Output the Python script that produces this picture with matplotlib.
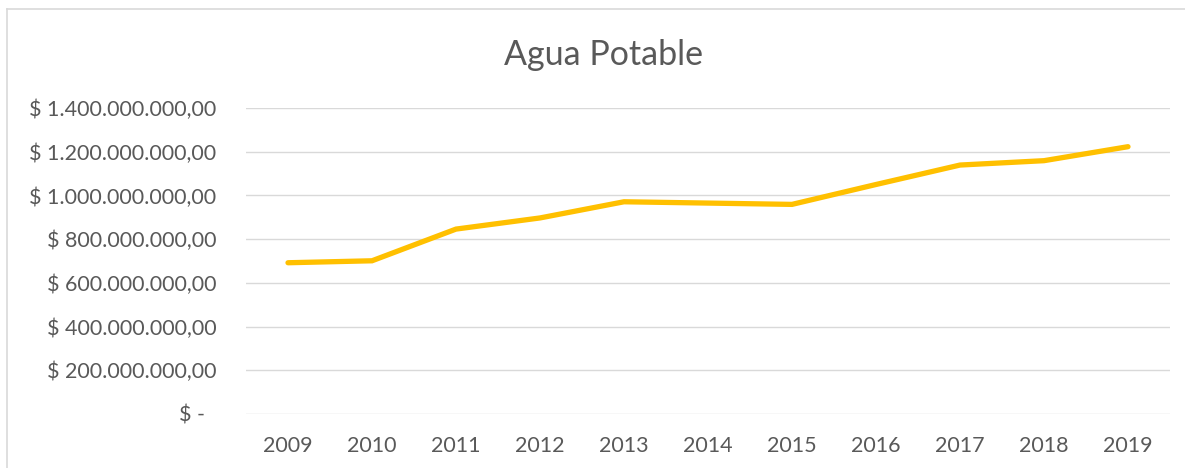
import matplotlib
matplotlib.use("Agg")
import matplotlib.pyplot as plt
from matplotlib.lines import Line2D
from matplotlib.ticker import FuncFormatter

years = ["2009", "2010", "2011", "2012", "2013", "2014",
         "2015", "2016", "2017", "2018", "2019"]
agua = [692e6, 701e6, 846e6, 897e6, 971e6, 965e6,
        959e6, 1050e6, 1139e6, 1159e6, 1223e6]
y_ticks = [0, 200e6, 400e6, 600e6, 800e6, 1000e6, 1200e6, 1400e6]

text_color = "#595959"
plt.rcParams["font.family"] = ["Lato", "DejaVu Sans"]


def pesos(v, pos):
    if v == 0:
        return "$ -  "
    s = f"{v:,.2f}".replace(",", "X").replace(".", ",").replace("X", ".")
    return "$ " + s


fig = plt.figure(figsize=(11.85, 4.68), dpi=100)
ax = fig.add_axes([246 / 1185, 1 - 414 / 468, 924 / 1185, 306 / 468])

ax.plot(range(len(years)), agua, color="#FFC000", linewidth=3.8,
        solid_capstyle="round", solid_joinstyle="miter", zorder=3)

ax.set_xlim(-0.5, len(years) - 0.5)
ax.set_ylim(0, 1400e6)
ax.set_yticks(y_ticks)
ax.yaxis.set_major_formatter(FuncFormatter(pesos))
ax.set_xticks(range(len(years)))
ax.set_xticklabels(years)
ax.grid(axis="y", color="#D9D9D9", linewidth=1.0, zorder=0)
for s in ax.spines.values():
    s.set_visible(False)
ax.tick_params(length=0, labelsize=15.5, labelcolor=text_color)
ax.tick_params(axis="y", pad=21.5)
ax.tick_params(axis="x", pad=16)

fig.text(603 / 1185, 1 - 55 / 468, "Agua Potable", ha="center", va="center",
         fontsize=24.5, color=text_color)

# thin frame around the chart area
fig.add_artist(Line2D([7 / 1185, 1], [1 - 9 / 468, 1 - 9 / 468],
                      color="#D9D9D9", linewidth=1.2))
fig.add_artist(Line2D([7 / 1185, 7 / 1185], [0, 1 - 9 / 468],
                      color="#D9D9D9", linewidth=1.2))

fig.savefig("out.png", dpi=100)
